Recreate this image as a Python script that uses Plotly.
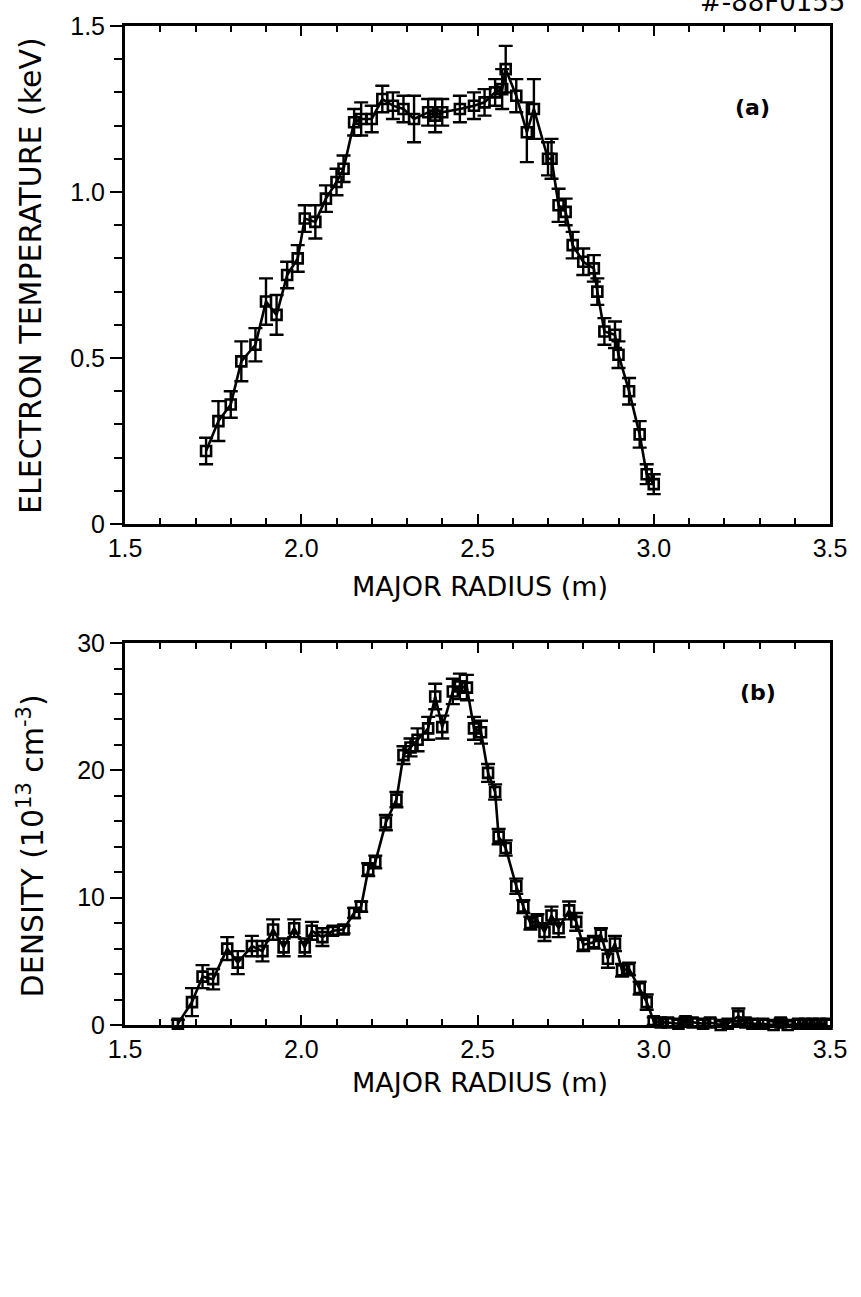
import plotly.graph_objects as go

# Panel (a): electron temperature profile
r_te = [1.73, 1.765, 1.80, 1.83, 1.87, 1.90, 1.93, 1.96, 1.99, 2.01, 2.04, 2.07,
        2.10, 2.12, 2.15, 2.17, 2.20, 2.23, 2.26, 2.29, 2.32, 2.36, 2.38, 2.40,
        2.45, 2.49, 2.52, 2.55, 2.57, 2.58, 2.61, 2.64, 2.66, 2.70, 2.71, 2.73,
        2.75, 2.77, 2.80, 2.83, 2.84, 2.86, 2.89, 2.90, 2.93, 2.96, 2.98, 3.00]
te = [0.22, 0.31, 0.36, 0.49, 0.54, 0.67, 0.63, 0.75, 0.80, 0.92, 0.91, 0.98,
      1.03, 1.07, 1.21, 1.22, 1.22, 1.28, 1.26, 1.25, 1.22, 1.24, 1.23, 1.24,
      1.25, 1.26, 1.27, 1.30, 1.31, 1.37, 1.29, 1.18, 1.25, 1.10, 1.10, 0.96,
      0.94, 0.84, 0.79, 0.77, 0.70, 0.58, 0.57, 0.51, 0.40, 0.27, 0.15, 0.12]
te_err = [0.04, 0.06, 0.04, 0.06, 0.05, 0.07, 0.06, 0.04, 0.04, 0.04, 0.05, 0.04,
          0.04, 0.04, 0.04, 0.05, 0.04, 0.04, 0.04, 0.04, 0.07, 0.04, 0.05, 0.04,
          0.04, 0.04, 0.04, 0.04, 0.06, 0.07, 0.05, 0.09, 0.09, 0.05, 0.06, 0.05,
          0.04, 0.04, 0.04, 0.04, 0.04, 0.04, 0.04, 0.04, 0.04, 0.04, 0.03, 0.03]

# Panel (b): electron density profile
r_ne = [1.65, 1.69, 1.72, 1.75, 1.79, 1.82, 1.86, 1.89, 1.92, 1.95, 1.98, 2.01,
        2.03, 2.06, 2.09, 2.12, 2.15, 2.17, 2.19, 2.21, 2.24, 2.27, 2.29, 2.31,
        2.33, 2.36, 2.38, 2.40, 2.43, 2.45, 2.47, 2.49, 2.51, 2.53, 2.55, 2.56,
        2.58, 2.61, 2.63, 2.65, 2.67, 2.69, 2.71, 2.73, 2.76, 2.78, 2.80, 2.83,
        2.85, 2.87, 2.89, 2.91, 2.93, 2.96, 2.98, 3.00, 3.02, 3.04, 3.07, 3.09,
        3.11, 3.14, 3.16, 3.19, 3.21, 3.24, 3.26, 3.28, 3.31, 3.34, 3.36, 3.38,
        3.41, 3.43, 3.45, 3.47, 3.49]
ne = [0.1, 1.8, 3.8, 3.6, 6.0, 4.9, 6.2, 5.8, 7.5, 6.1, 7.6, 6.1,
      7.4, 6.9, 7.4, 7.5, 8.8, 9.3, 12.2, 12.8, 15.9, 17.7, 21.2, 21.8,
      22.4, 23.3, 25.8, 23.4, 26.2, 26.6, 26.5, 23.3, 23.0, 19.8, 18.3, 14.8,
      13.9, 10.9, 9.3, 8.0, 8.2, 7.3, 8.6, 7.6, 9.0, 8.1, 6.3, 6.5,
      7.1, 5.2, 6.4, 4.3, 4.4, 2.9, 1.8, 0.3, 0.2, 0.2, 0.1, 0.3,
      0.2, 0.1, 0.2, 0.0, 0.1, 0.7, 0.2, 0.1, 0.1, 0.0, 0.2, 0.0,
      0.1, 0.1, 0.1, 0.1, 0.1]
ne_err = [0.3, 1.1, 0.9, 0.8, 0.9, 0.9, 0.8, 0.8, 0.8, 0.7, 0.7, 0.7,
          0.7, 0.7, 0.3, 0.3, 0.4, 0.4, 0.5, 0.5, 0.6, 0.6, 0.7, 0.7,
          0.9, 0.9, 1.0, 0.9, 1.0, 1.0, 1.0, 0.9, 0.9, 0.7, 0.6, 0.6,
          0.6, 0.6, 0.5, 0.5, 0.5, 0.7, 0.7, 0.7, 0.7, 0.7, 0.5, 0.5,
          0.5, 0.7, 0.6, 0.5, 0.5, 0.5, 0.6, 0.3, 0.3, 0.3, 0.3, 0.3,
          0.3, 0.3, 0.3, 0.3, 0.3, 0.6, 0.3, 0.3, 0.3, 0.3, 0.3, 0.3,
          0.3, 0.3, 0.3, 0.3, 0.3]

x_ticks = [1.5, 2.0, 2.5, 3.0, 3.5]
x_ticklabels = ["1.5", "2.0", "2.5", "3.0", "3.5"]
te_ticks = [0, 0.5, 1.0, 1.5]
te_ticklabels = ["0", "0.5", "1.0", "1.5"]
ne_ticks = [0, 10, 20, 30]
ne_ticklabels = ["0", "10", "20", "30"]

W, H = 861, 1297
ML, MR, MT, MB = 125, 31, 18, 272
PW, PH = W - ML - MR, H - MT - MB


def px(x):
    return (x - ML) / PW


def py(y):
    return (H - MB - y) / PH


INK = "#000000"
FONT = "Liberation Sans, Arial, sans-serif"
TFONT = "DejaVu Sans, Verdana, sans-serif"

fig = go.Figure()


def profile(x, y, err, xa, ya):
    return go.Scatter(
        x=x, y=y, xaxis=xa, yaxis=ya, mode="lines+markers",
        line=dict(color=INK, width=2.6),
        marker=dict(symbol="square-open", size=10, color=INK,
                    line=dict(color=INK, width=2.6)),
        error_y=dict(type="data", array=err, visible=True, color=INK,
                     thickness=2.4, width=7),
        showlegend=False, cliponaxis=False,
    )


fig.add_trace(profile(r_te, te, te_err, "x", "y"))
fig.add_trace(profile(r_ne, ne, ne_err, "x2", "y2"))

xcommon = dict(range=[1.5, 3.5], tickvals=x_ticks, ticktext=x_ticklabels,
               showline=True, linecolor=INK, linewidth=3, mirror="ticks",
               ticks="inside", ticklen=10, tickwidth=2, tickcolor=INK,
               minor=dict(dtick=0.1, ticks="inside", ticklen=6, tickwidth=1.5,
                          tickcolor=INK),
               showgrid=False, zeroline=False,
               tickfont=dict(family=FONT, size=25, color=INK))
ycommon = dict(showline=True, linecolor=INK, linewidth=3, mirror=True,
               ticks="outside", ticklen=12, tickwidth=2, tickcolor=INK,
               showgrid=False, zeroline=False,
               tickfont=dict(family=FONT, size=25, color=INK))

dom_a = [py(520), 1.0]
dom_b = [0.0, py(640)]

fig.update_layout(
    width=W, height=H,
    margin=dict(l=ML, r=MR, t=MT, b=MB),
    paper_bgcolor="white", plot_bgcolor="white",
    xaxis=dict(anchor="y", domain=[0, 1], **xcommon),
    yaxis=dict(anchor="x", domain=dom_a, range=[0, 1.5], tickvals=te_ticks,
               ticktext=te_ticklabels,
               minor=dict(dtick=0.1, ticks="outside", ticklen=8, tickwidth=1.5,
                          tickcolor=INK),
               **ycommon),
    xaxis2=dict(anchor="y2", domain=[0, 1], **xcommon),
    yaxis2=dict(anchor="x2", domain=dom_b, range=[0, 30], tickvals=ne_ticks,
                ticktext=ne_ticklabels,
                minor=dict(dtick=2, ticks="outside", ticklen=8, tickwidth=1.5,
                           tickcolor=INK),
                **ycommon),
)

title_font = dict(family=TFONT, size=27, color=INK)
ytitle_font = dict(family=TFONT, size=30, color=INK)
label_font = dict(family=TFONT, size=22, color=INK)
notes = [
    dict(x=px(480), y=py(583), text="MAJOR RADIUS (m)", font=title_font),
    dict(x=px(480), y=py(1083), text="MAJOR RADIUS (m)", font=title_font),
    dict(x=px(31), y=py(270), text="ELECTRON TEMPERATURE (keV)", font=ytitle_font,
         textangle=-90),
    dict(x=px(31), y=py(845), text="DENSITY (10<sup>13</sup> cm<sup>-3</sup>)",
         font=ytitle_font, textangle=-90),
    dict(x=px(752), y=py(100), text="<b>(a)</b>", font=label_font),
    dict(x=px(758), y=py(690), text="<b>(b)</b>", font=label_font),
    dict(x=px(772), y=py(-6), text="#-88F0155", font=dict(family=TFONT, size=26, color=INK)),
]
for n in notes:
    fig.add_annotation(xref="paper", yref="paper", showarrow=False,
                       xanchor="center", yanchor="middle", **n)

fig.write_html("out.html")
